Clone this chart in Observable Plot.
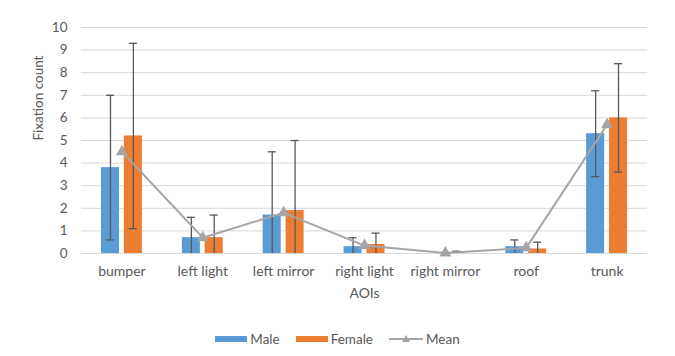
<!DOCTYPE html>
<html>
<head>
<meta charset="utf-8">
<script src="https://cdn.jsdelivr.net/npm/d3@7"></script>
<script src="https://cdn.jsdelivr.net/npm/@observablehq/plot@0.6"></script>
<style>
  html, body { margin: 0; padding: 0; background: #fff; }
  #chart { width: 675px; font-family: Lato, "Open Sans", sans-serif; }
  .legend { display: flex; justify-content: center; align-items: center; height: 34px; font-size: 13.5px; color: #595959; font-family: Lato, sans-serif; }
  .legend .item { display: flex; align-items: center; margin: 0 8px; }
  .legend .sw { display: inline-block; width: 32px; height: 6px; margin-right: 3px; }
</style>
</head>
<body>
<div id="chart"></div>
<script>
const categories = ["bumper", "left light", "left mirror", "right light", "right mirror", "roof", "trunk"];
const maleValues   = [3.8, 0.7, 1.7, 0.3, 0.0, 0.3, 5.3];
const maleLow      = [0.6, 0.0, 0.0, 0.0, 0.0, 0.0, 3.4];
const maleHigh     = [7.0, 1.6, 4.5, 0.7, 0.0, 0.6, 7.2];
const femaleValues = [5.2, 0.7, 1.9, 0.4, 0.05, 0.2, 6.0];
const femaleLow    = [1.1, 0.0, 0.0, 0.0, 0.0, 0.0, 3.6];
const femaleHigh   = [9.3, 1.7, 5.0, 0.9, 0.1, 0.5, 8.4];
const meanValues   = [4.5, 0.7, 1.8, 0.35, 0.02, 0.25, 5.7];
const yTicks = [0, 1, 2, 3, 4, 5, 6, 7, 8, 9, 10];

const colors = { Male: "#5B9BD5", Female: "#ED7D31", Mean: "#A5A5A5" };
const textColor = "#595959";

// offsets within each category band (in category units)
const barHalfGap = 0.03, barW = 0.223, capHalf = 0.05;

const rows = [];
categories.forEach((c, i) => {
  rows.push({ i, series: "Male", v: maleValues[i], lo: maleLow[i], hi: maleHigh[i], x1: i - barHalfGap - barW, x2: i - barHalfGap });
  rows.push({ i, series: "Female", v: femaleValues[i], lo: femaleLow[i], hi: femaleHigh[i], x1: i + barHalfGap, x2: i + barHalfGap + barW });
});
rows.forEach(r => { r.xc = (r.x1 + r.x2) / 2; });
const errRows = rows.filter(r => r.hi > r.lo);
const means = categories.map((c, i) => ({ i, v: meanValues[i] }));

const plot = Plot.plot({
  width: 675,
  height: 322,
  marginLeft: 81,
  marginRight: 28,
  marginTop: 27,
  marginBottom: 69,
  style: { fontFamily: "Lato, 'Open Sans', sans-serif", fontSize: "13px", color: textColor, background: "#fff" },
  x: { domain: [-0.5, categories.length - 0.5], axis: null },
  y: { domain: [0, 10], axis: null },
  marks: [
    Plot.ruleY(yTicks, { stroke: "#D9D9D9", strokeWidth: 1 }),
    Plot.axisY(yTicks, { tickSize: 0, tickPadding: 14, fill: textColor, fontSize: 13.5, label: null }),
    Plot.axisX(d3.range(categories.length), { tickSize: 0, tickPadding: 13, tickFormat: i => categories[i], fill: textColor, fontSize: 14, label: null }),
    Plot.rectY(rows, { x1: "x1", x2: "x2", y1: 0, y2: "v", fill: d => colors[d.series] }),
    Plot.ruleX(errRows, { x: "xc", y1: "lo", y2: "hi", stroke: "#595959", strokeWidth: 1.3 }),
    Plot.ruleY(errRows, { y: "hi", x1: d => d.xc - capHalf, x2: d => d.xc + capHalf, stroke: "#595959", strokeWidth: 1.3 }),
    Plot.ruleY(errRows.filter(d => d.lo > 0), { y: "lo", x1: d => d.xc - capHalf, x2: d => d.xc + capHalf, stroke: "#595959", strokeWidth: 1.3 }),
    Plot.line(means, { x: "i", y: "v", stroke: colors.Mean, strokeWidth: 2 }),
    Plot.dot(means, { x: "i", y: "v", symbol: "triangle", fill: colors.Mean, r: 4.5 }),
    Plot.text(["AOIs"], { frameAnchor: "bottom", dy: 44, fill: textColor, fontSize: 14 }),
    Plot.text(["Fixation count"], { frameAnchor: "left", dx: -43, rotate: -90, fill: textColor, fontSize: 13.5 })
  ]
});

const chart = document.getElementById("chart");
chart.appendChild(plot);

const legend = document.createElement("div");
legend.className = "legend";
legend.innerHTML = `
  <span class="item"><span class="sw" style="background:${colors.Male}"></span>Male</span>
  <span class="item"><span class="sw" style="background:${colors.Female}"></span>Female</span>
  <span class="item"><svg width="34" height="10" style="margin-right:3px"><line x1="0" y1="5" x2="34" y2="5" stroke="${colors.Mean}" stroke-width="2"/><path d="M17,1 L21,8 L13,8 Z" fill="${colors.Mean}"/></svg>Mean</span>`;
chart.appendChild(legend);
</script>
</body>
</html>
